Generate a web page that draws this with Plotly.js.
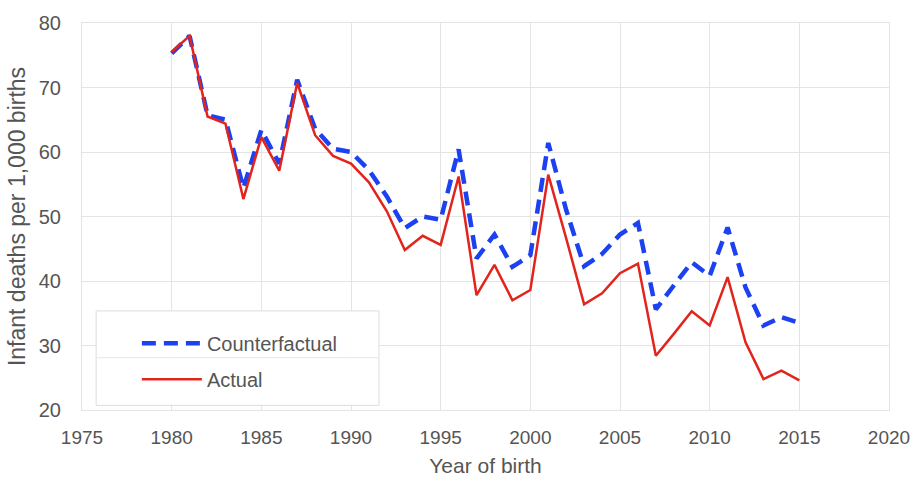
<!DOCTYPE html>
<html>
<head>
<meta charset="utf-8">
<script src="https://cdn.plot.ly/plotly-3.0.1.min.js"></script>
<style>
  html, body { margin: 0; padding: 0; background: #fff; }
  #chart { width: 912px; height: 477px; }
</style>
</head>
<body>
<div id="chart"></div>
<script>
// Data
const years = [1980,1981,1982,1983,1984,1985,1986,1987,1988,1989,1990,1991,1992,1993,1994,1995,1996,1997,1998,1999,2000,2001,2002,2003,2004,2005,2006,2007,2008,2009,2010,2011,2012,2013,2014,2015];
const counterfactual = [75.3,78.0,65.7,65.0,54.4,63.4,58.2,71.2,63.6,60.5,60.0,57.2,53.1,48.2,50.0,49.5,60.4,43.5,47.2,42.2,44.0,61.4,51.0,42.3,44.2,47.2,49.0,35.6,39.3,42.9,40.8,48.3,39.0,33.1,34.4,33.5];
const actual = [75.5,78.0,65.5,64.4,52.7,62.3,57.1,70.7,62.6,59.4,58.2,55.3,50.8,44.8,47.0,45.6,56.2,37.8,42.5,37.0,38.6,56.5,46.6,36.4,38.1,41.2,42.7,28.4,31.8,35.3,33.1,40.6,30.5,24.8,26.1,24.6];
const seriesNames = ["Counterfactual", "Actual"];
const xTicks = [1975,1980,1985,1990,1995,2000,2005,2010,2015,2020];
const yTicks = [20,30,40,50,60,70,80];

const BLUE = "#1b41f0";
const RED = "#e2241c";
const GRID = "#e4e4e4";
const TXT = "#555555";
const FONT = "Liberation Sans, Arial, sans-serif";

const traces = [
  {
    x: years, y: counterfactual, name: seriesNames[0], type: "scatter", mode: "lines",
    legendgroup: "a",
    line: { color: BLUE, width: 4.5, dash: "14px,8px" }
  },
  {
    x: years, y: actual, name: seriesNames[1], type: "scatter", mode: "lines",
    legendgroup: "b",
    line: { color: RED, width: 2.5 }
  }
];

const layout = {
  width: 912, height: 477,
  margin: { l: 82, r: 23, t: 23, b: 67 },
  paper_bgcolor: "#ffffff",
  plot_bgcolor: "#ffffff",
  font: { family: FONT, color: TXT, size: 19 },
  showlegend: true,
  legend: {
    x: 0.068, y: 0.223, xanchor: "left", yanchor: "top",
    bgcolor: "rgba(0,0,0,0)", borderwidth: 0,
    font: { family: FONT, size: 20, color: TXT },
    traceorder: "grouped", tracegroupgap: 7,
    itemwidth: 60
  },
  xaxis: {
    range: [1975, 2020],
    tickvals: xTicks,
    ticktext: xTicks.map(String),
    showgrid: true, gridcolor: GRID, gridwidth: 1,
    zeroline: false,
    showline: true, linecolor: GRID, linewidth: 1, mirror: true,
    ticks: "", ticklabelstandoff: 10,
    tickfont: { family: FONT, size: 19, color: TXT },
    title: { text: "Year of birth", font: { family: FONT, size: 21, color: TXT }, standoff: 12 }
  },
  yaxis: {
    range: [20, 80],
    tickvals: yTicks,
    ticktext: yTicks.map(String),
    showgrid: true, gridcolor: GRID, gridwidth: 1,
    zeroline: false,
    showline: true, linecolor: GRID, linewidth: 1, mirror: true,
    ticks: "", ticklabelstandoff: 16,
    tickfont: { family: FONT, size: 20, color: TXT },
    title: { text: "Infant deaths per 1,000 births", font: { family: FONT, size: 23, color: TXT }, standoff: 6 }
  },
  shapes: [
    { type: "rect", xref: "paper", yref: "paper", x0: 0.0175, x1: 0.368, y0: 0.012, y1: 0.256,
      line: { color: "#dddddd", width: 1 }, fillcolor: "rgba(255,255,255,0.95)", layer: "above" },
    { type: "line", xref: "paper", yref: "paper", x0: 0.0175, x1: 0.368, y0: 0.135, y1: 0.135,
      line: { color: "#e6e6e6", width: 1 }, layer: "above" }
  ]
};

Plotly.newPlot("chart", traces, layout, { staticPlot: true, displayModeBar: false });
</script>
</body>
</html>
